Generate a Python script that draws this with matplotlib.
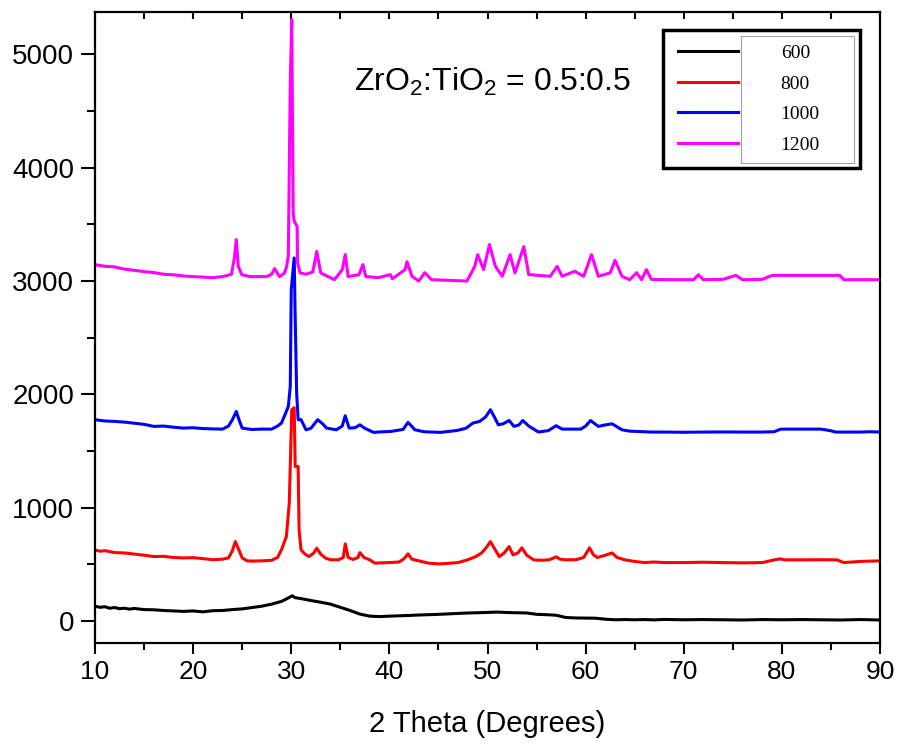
import matplotlib
matplotlib.use("Agg")
import matplotlib.pyplot as plt
from matplotlib.patches import Rectangle
from matplotlib.ticker import MultipleLocator

plt.rcParams['font.family'] = ['Liberation Sans', 'DejaVu Sans']
plt.rcParams['mathtext.fontset'] = 'custom'
plt.rcParams['mathtext.rm'] = 'Liberation Sans'
plt.rcParams['mathtext.it'] = 'Liberation Sans:italic'

# ---------------- data ----------------
series_labels = ['600', '800', '1000', '1200']
series_colors = ['#000000', '#ff0000', '#0000ff', '#ff00ff']

x_600 = [10, 10.5, 11, 11.5, 12, 12.5, 13, 13.5, 14, 15,
         16, 17, 18, 19, 20, 21, 22, 23, 24, 25,
         26, 27, 28, 29, 29.6, 30.1, 30.4, 30.8, 31.3, 32,
         33, 34, 35, 36, 37, 38, 39, 40, 41, 42,
         43, 44, 45, 46, 47, 48, 49, 50, 51, 52,
         53, 54, 55, 56, 57, 58, 59, 60, 61, 62,
         63, 64, 65, 66, 67, 68, 70, 72, 74, 76,
         78, 80, 82, 84, 86, 88, 90]
y_600 = [130, 120, 125, 112, 118, 108, 112, 104, 110, 100,
         98, 92, 88, 84, 88, 80, 90, 92, 100, 106,
         118, 130, 148, 172, 198, 222, 205, 200, 192, 180,
         165, 148, 120, 92, 60, 42, 38, 42, 45, 48,
         52, 55, 58, 62, 66, 70, 72, 75, 78, 74,
         72, 70, 58, 55, 50, 30, 26, 25, 24, 15,
         10, 12, 10, 12, 9, 13, 10, 12, 10, 8,
         12, 10, 12, 10, 8, 12, 8]

x_800 = [10, 10.5, 11, 12, 13, 14, 15, 16, 17, 18,
         19, 20, 21, 22, 23, 23.6, 24.0, 24.3, 24.6, 25.0,
         25.5, 26, 27, 28, 28.6, 29.0, 29.5, 29.8, 30.05, 30.3,
         30.4, 30.7, 30.8, 31.0, 31.4, 31.8, 32.3, 32.6, 33.0, 33.5,
         34, 34.8, 35.3, 35.5, 35.8, 36.3, 36.8, 37.0, 37.4, 38,
         38.5, 39, 40, 41, 41.5, 41.9, 42.3, 43, 44, 45,
         46, 47, 48, 48.8, 49.4, 49.9, 50.3, 50.7, 51.2, 51.7,
         52.2, 52.6, 53.1, 53.5, 54.0, 54.7, 55.5, 56.3, 57.0, 57.4,
         58, 59, 59.8, 60.4, 60.8, 61.2, 62, 62.7, 63.2, 64,
         65, 66, 67, 68, 70, 72, 74, 76, 78, 79.3,
         79.8, 80.3, 82, 84, 85.6, 86.3, 88, 90]
y_800 = [627, 615, 620, 603, 600, 590, 580, 568, 570, 560,
         556, 558, 550, 540, 545, 556, 620, 700, 640, 556,
         530, 528, 530, 535, 560, 627, 745, 1042, 1864, 1882,
         1363, 1363, 800, 627, 590, 568, 600, 642, 590, 554,
         540, 539, 560, 680, 560, 542, 560, 603, 560, 539,
         510, 512, 515, 520, 550, 592, 545, 530, 510, 503,
         508, 515, 540, 568, 600, 650, 700, 640, 568, 600,
         656, 583, 600, 645, 580, 539, 535, 540, 565, 545,
         539, 540, 560, 645, 583, 560, 580, 600, 560, 539,
         525, 515, 520, 515, 515, 518, 515, 512, 515, 540,
         548, 539, 539, 540, 539, 515, 525, 530]

x_1000 = [10, 10.5, 11, 12, 13, 14, 15, 16, 17, 18,
          19, 20, 21, 22, 23, 23.6, 24.0, 24.4, 24.7, 25.0,
          25.5, 26, 27, 28, 28.6, 29.0, 29.5, 29.7, 29.9, 30.0,
          30.3, 30.4, 30.55, 30.7, 31.0, 31.5, 32.0, 32.7, 33.2, 33.6,
          34.6, 35.2, 35.5, 35.9, 36.5, 37.0, 37.5, 38.4, 39, 40.1,
          41.4, 41.9, 42.6, 43.5, 45.2, 46.9, 47.8, 48.5, 49.2, 49.8,
          50.3, 50.7, 51.1, 51.6, 52.2, 52.7, 53.2, 53.6, 54.2, 55.2,
          56.2, 57.0, 57.6, 58.5, 59.5, 60.0, 60.5, 61.3, 62.0, 62.7,
          63.7, 64.5, 66.7, 68, 70, 72, 74, 76, 78, 79.2,
          79.9, 81, 82.5, 84, 84.9, 85.5, 86.5, 88, 89, 90]
y_1000 = [1776, 1770, 1765, 1761, 1755, 1745, 1735, 1717, 1720, 1710,
          1702, 1705, 1698, 1695, 1693, 1720, 1776, 1849, 1770, 1702,
          1695, 1690, 1693, 1693, 1720, 1746, 1849, 1893, 2070, 2924,
          3204, 2688, 2011, 1776, 1776, 1687, 1700, 1776, 1740, 1702,
          1687, 1720, 1811, 1702, 1705, 1731, 1700, 1664, 1668, 1672,
          1690, 1753, 1687, 1670, 1664, 1681, 1700, 1746, 1761, 1800,
          1864, 1800, 1731, 1740, 1769, 1717, 1730, 1769, 1720, 1667,
          1680, 1723, 1693, 1693, 1693, 1720, 1769, 1717, 1730, 1740,
          1687, 1675, 1667, 1667, 1665, 1667, 1668, 1667, 1667, 1670,
          1693, 1693, 1693, 1693, 1680, 1667, 1667, 1667, 1670, 1667]

x_1200 = [10, 11, 12, 13, 14, 15, 16, 17, 18, 19,
          20, 21, 22, 23, 23.9, 24.2, 24.4, 24.6, 24.95, 25.8,
          27.5, 28.0, 28.3, 28.8, 29.3, 29.5, 29.7, 29.9, 30.05, 30.2,
          30.3, 30.6, 30.65, 30.9, 31.5, 32.2, 32.6, 33.0, 34.4, 35.2,
          35.5, 35.8, 36.9, 37.3, 37.6, 38.9, 40.1, 40.3, 41.6, 41.8,
          42.3, 43.0, 43.6, 44.3, 47.9, 48.7, 49.0, 49.6, 50.2, 50.8,
          51.5, 52.3, 52.8, 53.7, 54.2, 56.4, 57.1, 57.6, 58.9, 59.8,
          60.6, 61.3, 62.5, 63.0, 63.7, 64.5, 65.2, 65.7, 66.2, 66.7,
          68, 70, 71.0, 71.5, 72, 74, 75.3, 76, 78, 79.0,
          81, 83, 85.9, 86.3, 88, 90]
y_1200 = [3145, 3130, 3125, 3105, 3095, 3083, 3075, 3060, 3055, 3045,
          3039, 3035, 3030, 3039, 3060, 3200, 3366, 3130, 3057, 3039,
          3039, 3060, 3110, 3039, 3070, 3118, 3218, 4753, 5309, 3600,
          3527, 3483, 3160, 3072, 3060, 3080, 3262, 3072, 3012, 3101,
          3233, 3039, 3057, 3145, 3039, 3030, 3057, 3020, 3101, 3171,
          3042, 3000, 3074, 3012, 3000, 3130, 3233, 3101, 3322, 3130,
          3042, 3233, 3072, 3304, 3057, 3042, 3130, 3042, 3086, 3042,
          3233, 3042, 3072, 3183, 3042, 3012, 3074, 3012, 3101, 3015,
          3012, 3012, 3012, 3056, 3012, 3015, 3050, 3012, 3015, 3050,
          3050, 3050, 3050, 3012, 3012, 3012]

xs = [x_600, x_800, x_1000, x_1200]
ys = [y_600, y_800, y_1000, y_1200]

annotation = r'ZrO$_2$:TiO$_2$ = 0.5:0.5'
x_label = '2 Theta (Degrees)'

# ---------------- figure ----------------
fig = plt.figure(figsize=(9.01, 7.48), dpi=100)
ax = fig.add_axes([95 / 901, 1 - 643 / 748, 785 / 901, 631 / 748])

handles = []
for x, y, lab, col in zip(xs, ys, series_labels, series_colors):
    h, = ax.plot(x, y, color=col, lw=2.2, label=lab)
    handles.append(h)

ax.set_xlim(10, 90)
ax.set_ylim(-195, 5375)

ax.xaxis.set_major_locator(MultipleLocator(10))
ax.xaxis.set_minor_locator(MultipleLocator(5))
ax.yaxis.set_major_locator(MultipleLocator(1000))
ax.yaxis.set_minor_locator(MultipleLocator(500))

for sp in ax.spines.values():
    sp.set_linewidth(1.6)

ax.tick_params(axis='y', which='major', direction='out', length=10, width=1.5,
               labelsize=20, pad=5, left=True, right=False)
ax.tick_params(axis='y', which='minor', direction='out', length=6, width=1.5,
               left=True, right=False)
ax.tick_params(axis='x', which='major', direction='out', length=8, width=1.5,
               labelsize=19, pad=4, bottom=True, top=True)
ax.tick_params(axis='x', which='minor', direction='out', length=5, width=1.5,
               bottom=True, top=True)
# top ticks pointing inward
for t in ax.xaxis.get_major_ticks() + ax.xaxis.get_minor_ticks():
    t.tick2line.set_marker(3)
    t.tick2line.set_markersize(5)

ax.set_xlabel(x_label, fontsize=21, labelpad=19)

ax.text(50.5, 4755, annotation, fontsize=23, ha='center', va='center')

leg = ax.legend(handles=handles, loc='upper left',
                bbox_to_anchor=(0.7236, 0.70, 0.251, 0.2715), mode='expand',
                borderaxespad=0, frameon=True, fancybox=False, framealpha=1,
                handlelength=3.1, handletextpad=2.2, labelspacing=0.66,
                borderpad=0.75, prop={'family': 'Liberation Serif', 'size': 14})
leg.get_frame().set_edgecolor('black')
leg.get_frame().set_linewidth(2.5)

ax.add_patch(Rectangle((0.8225, 0.7612), 0.1444, 0.2008, transform=ax.transAxes,
                       fill=False, edgecolor='#a0a0a0', lw=0.8, zorder=6))

fig.savefig('out.png', dpi=100)
